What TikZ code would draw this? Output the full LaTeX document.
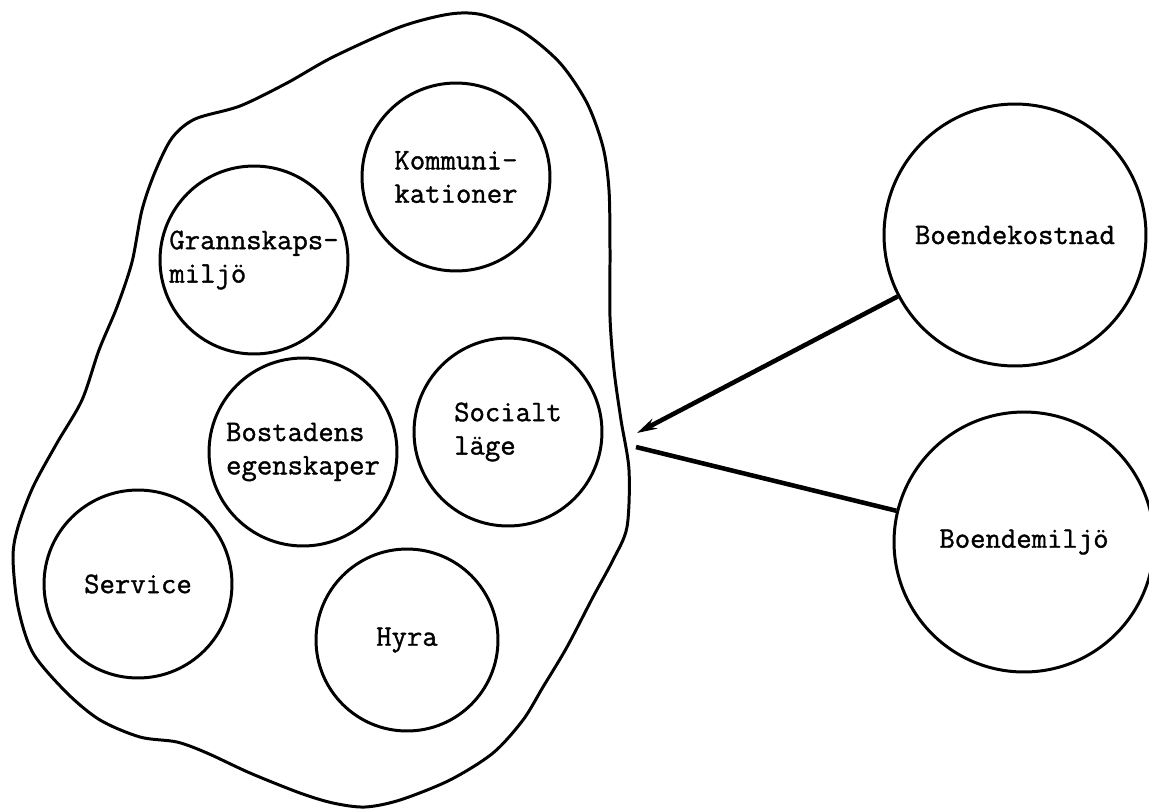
\documentclass[tikz,border=0pt]{standalone}
\usepackage{fontspec}
\setmonofont{Latin Modern Mono}[FakeBold=1.2]
\usepackage{tikz}
\usetikzlibrary{arrows.meta}

\begin{document}
\begin{tikzpicture}[
    x=0.02cm, y=-0.02cm,
    >=Stealth,
    line join=round,
    faktor/.style={
        circle,
        draw,
        line width=1.7pt,
        inner sep=0pt,
        minimum size=3.76cm,
        align=left,
        font=\ttfamily\bfseries\fontsize{17}{19}\selectfont
    },
    stor/.style={
        faktor,
        minimum size=5.24cm
    },
    pil/.style={
        line width=2.6pt
    }
]

\useasboundingbox (0,0) rectangle (1149,809);

% ---------------- OMRÅDET ----------------

\draw[
    line width=1.7pt,
    smooth cycle,
    tension=0.5
] plot coordinates {
    (400,27) (450,14) (483,15) (523,32) (560,63) (587,103) (603,147)
    (609,190) (610,250) (610,317) (614,370) (621,420) (629,470)
    (627,527) (613,560) (593,597) (567,647) (543,687) (523,720)
    (493,753) (450,780) (400,800) (365,807) (333,803) (300,793)
    (250,773) (207,753) (177,742) (140,737) (100,720) (67,693)
    (33,653) (18,607) (13,557) (18,527) (33,487) (57,443) (82,400)
    (99,350) (117,307) (132,262) (142,210) (155,172) (172,138)
    (195,119) (240,106) (287,83) (333,57)
};

% Faktorer
\node[faktor] (komm) at (456,177) {Kommuni-\\kationer};
\node[faktor] (grann) at (254,260) {Grannskaps-\\milj\"o};
\node[faktor] (bost) at (303,452) {Bostadens\\egenskaper};
\node[faktor] (soc) at (508,432) {Socialt\\l\"age};
\node[faktor] (serv) at (138,584) {Service};
\node[faktor, minimum size=3.64cm] (hyra) at (407,640) {Hyra};

% ---------------- BOENDE ----------------

\node[stor] (kost) at (1015,235) {Boendekostnad};
\node[stor, minimum size=5.2cm] (miljo) at (1024,542) {Boendemilj\"o};

\coordinate (spets) at (637,433);
\coordinate (fot) at (636,447);

% Samband
\draw[
    pil,
    -{Stealth[length=4mm,width=2.2mm]}
] (kost) -- (spets);

\draw[
    pil
] (miljo) -- (fot);

\end{tikzpicture}
\end{document}
